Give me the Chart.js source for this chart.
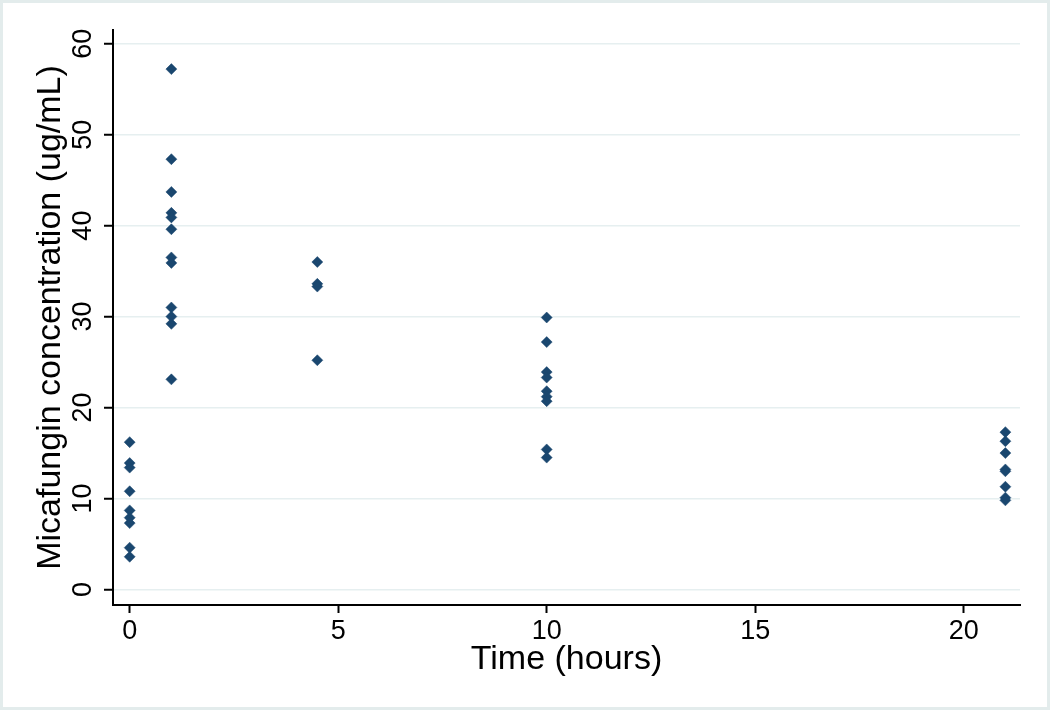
<!DOCTYPE html>
<html>
<head>
<meta charset="utf-8">
<script src="https://cdn.jsdelivr.net/npm/chart.js@4.4.0/dist/chart.umd.min.js"></script>
<style>
html, body { margin: 0; padding: 0; background: #fff; }
</style>
</head>
<body>
<canvas id="pkChart" width="1050" height="710"></canvas>
<script>
// sampling times (hours) and measured concentrations at each time
var times = [0, 1, 4.5, 10, 21];
var concAt0 = [16.2, 13.9, 13.4, 10.8, 8.7, 7.9, 7.3, 4.6, 3.6];
var concAt1 = [57.2, 47.3, 43.7, 41.4, 40.9, 39.6, 36.5, 35.9, 31.0, 30.0, 29.2, 23.1];
var concAt4_5 = [36.0, 33.6, 33.3, 25.2];
var concAt10 = [29.9, 27.2, 23.9, 23.3, 21.8, 21.2, 20.7, 15.4, 14.5];
var concAt21 = [17.3, 16.3, 15.0, 13.2, 13.0, 11.3, 10.1, 9.8];
var concentrations = [concAt0, concAt1, concAt4_5, concAt10, concAt21];

var xTicks = [0, 5, 10, 15, 20];
var yTicks = [0, 10, 20, 30, 40, 50, 60];

var points = [];
times.forEach(function (t, i) {
    concentrations[i].forEach(function (c) {
        points.push({ x: t, y: c });
    });
});

var tickFont = { family: '"Liberation Sans Narrow", "Liberation Sans", Arial, sans-serif', size: 27 };
var titleFont = { family: '"Liberation Sans", Arial, sans-serif', size: 34 };

//light frame round the whole picture//
var frame = {
    id: 'frame',
    beforeDraw: function (chart) {
        var c = chart.ctx;
        c.save();
        c.fillStyle = '#e3ecec';
        c.fillRect(0, 0, chart.width, chart.height);
        c.fillStyle = '#ffffff';
        c.fillRect(3, 3, chart.width - 6, chart.height - 6);
        c.restore();
    }
};

//y tick labels turned on their side, like the original//
var yLabels = {
    id: 'yLabels',
    afterDraw: function (chart) {
        var s = chart.scales.y;
        var c = chart.ctx;
        c.save();
        c.font = tickFont.size + 'px ' + tickFont.family;
        c.fillStyle = '#000';
        c.textAlign = 'center';
        c.textBaseline = 'middle';
        s.ticks.forEach(function (t) {
            c.save();
            c.translate(s.right - 29, s.getPixelForValue(t.value));
            c.rotate(-Math.PI / 2);
            c.fillText(String(t.value), 0, 0);
            c.restore();
        });
        c.restore();
    }
};

var ctx = document.getElementById('pkChart').getContext('2d');
var myChart = new Chart(ctx, {
    type: 'scatter',
    data: {
        datasets: [{
            label: 'Micafungin',
            data: points,
            pointStyle: 'rectRot',
            pointRadius: 5.5,
            backgroundColor: '#1a476f',
            borderColor: '#1a476f',
            borderWidth: 0.5
        }]
    },
    options: {
        responsive: false,
        animation: false,
        layout: { padding: { top: 30, right: 30, left: 0, bottom: 0 } },
        plugins: {
            legend: { display: false },
            tooltip: { enabled: false }
        },
        scales: {
            x: {
                type: 'linear',
                min: -0.4,
                max: 21.35,
                afterBuildTicks: function (s) { s.ticks = xTicks.map(function (v) { return { value: v }; }); },
                afterFit: function (s) { s.height = 105; },
                grid: { drawOnChartArea: false, tickLength: 8, tickColor: '#000', tickWidth: 2 },
                border: { color: '#000', width: 2 },
                ticks: { color: '#000', font: tickFont, padding: 2, maxRotation: 0 },
                title: { display: true, text: 'Time (hours)', color: '#000', font: titleFont, padding: { top: 0, bottom: 30 } }
            },
            y: {
                type: 'linear',
                min: -1.7,
                max: 61.5,
                afterBuildTicks: function (s) { s.ticks = yTicks.map(function (v) { return { value: v }; }); },
                afterFit: function (s) { s.width = 113; },
                grid: { color: '#e6eff0', lineWidth: 1.5, tickLength: 9, tickColor: '#000', tickWidth: 2 },
                border: { color: '#000', width: 2 },
                ticks: { color: 'rgba(0,0,0,0)', font: tickFont },
                title: { display: true, text: 'Micafungin concentration (ug/mL)', color: '#000', font: titleFont, padding: { top: 30, bottom: 0 } }
            }
        }
    },
    plugins: [frame, yLabels]
});
</script>
</body>
</html>
